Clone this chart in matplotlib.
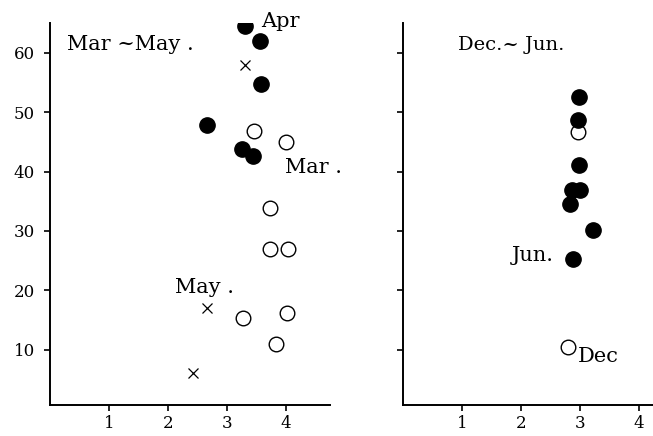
import matplotlib.pyplot as plt

# Mar ~ May panel
spring_filled_x = [3.31, 3.56, 3.58, 2.66, 3.26, 3.45]
spring_filled_y = [64.5, 61.9, 54.8, 47.8, 43.8, 42.7]
spring_open_x = [3.46, 4.01, 3.74, 3.74, 4.03, 3.27, 4.02, 3.83]
spring_open_y = [46.8, 45.0, 33.9, 27.0, 27.0, 15.3, 16.2, 11.0]
spring_cross_x = [3.31, 2.66, 2.42]
spring_cross_y = [57.9, 17.0, 6.1]

# Dec ~ Jun panel
winter_filled_x = [2.98, 2.97, 2.98, 2.86, 3.00, 2.83, 3.23, 2.89]
winter_filled_y = [52.5, 48.7, 41.1, 36.9, 36.9, 34.6, 30.2, 25.2]
winter_open_x = [2.97, 2.80]
winter_open_y = [46.7, 10.4]

y_ticks = [10, 20, 30, 40, 50, 60]
x_ticks = [1, 2, 3, 4]

plt.rcParams["font.family"] = "DejaVu Serif"

fig = plt.figure(figsize=(6.53, 4.36), dpi=100)
ax1 = fig.add_axes([0.0766, 0.0711, 0.4288, 0.876])
ax2 = fig.add_axes([0.617, 0.0711, 0.384, 0.876])


def style(ax, xmax, labels):
    ax.set_xlim(0, xmax)
    ax.set_ylim(0.7, 65)
    for s in ["top", "right"]:
        ax.spines[s].set_visible(False)
    for s in ["left", "bottom"]:
        ax.spines[s].set_linewidth(1.4)
    ax.set_xticks(x_ticks)
    ax.set_yticks(y_ticks)
    ax.tick_params(direction="out", length=4, width=1.2, labelsize=12)
    ax.tick_params(axis="y", pad=7)
    if not labels:
        ax.set_yticklabels([])


style(ax1, 4.75, True)
style(ax2, 4.25, False)

ax1.plot(spring_open_x, spring_open_y, "o", ms=10.5, mfc="white", mec="black", mew=1)
ax1.plot(spring_filled_x, spring_filled_y, "o", ms=11, color="black")
ax1.plot(spring_cross_x, spring_cross_y, "x", ms=7, color="black", mew=0.9)

ax2.plot(winter_open_x, winter_open_y, "o", ms=10.5, mfc="white", mec="black", mew=1)
ax2.plot(winter_filled_x, winter_filled_y, "o", ms=11, color="black")

ax1.text(0.29, 60.5, "Mar ~May .", fontsize=15)
ax1.text(3.58, 64.4, "Apr", fontsize=15)
ax1.text(3.98, 39.8, "Mar .", fontsize=15)
ax1.text(2.12, 19.6, "May .", fontsize=15)

ax2.text(0.93, 60.5, "Dec.~ Jun.", fontsize=14)
ax2.text(1.85, 25.0, "Jun.", fontsize=15)
ax2.text(2.97, 8.0, "Dec", fontsize=15)

fig.savefig("out.png", dpi=100)
